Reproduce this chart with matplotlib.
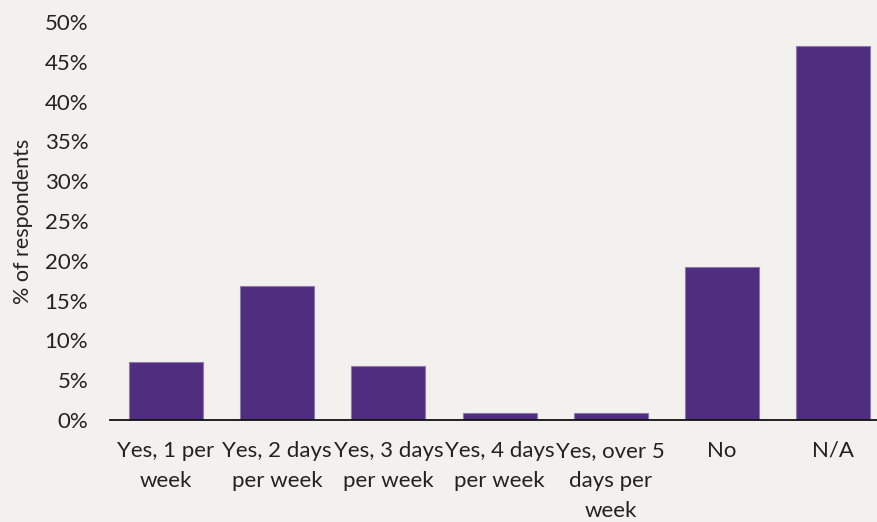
import matplotlib
matplotlib.use("Agg")
import matplotlib.pyplot as plt
from matplotlib.ticker import FuncFormatter

categories = [
    "Yes, 1 per\nweek",
    "Yes, 2 days\nper week",
    "Yes, 3 days\nper week",
    "Yes, 4 days\nper week",
    "Yes, over 5\ndays per\nweek",
    "No",
    "N/A",
]
values = [7.3, 16.8, 6.8, 0.9, 0.9, 19.2, 47.0]
y_ticks = [0, 5, 10, 15, 20, 25, 30, 35, 40, 45, 50]

bg = "#f3f1ed"
bar_color = "#4f2d7f"
text_color = "#222222"

plt.rcParams["font.family"] = ["Lato", "DejaVu Sans"]

W, H = 878, 522
fig = plt.figure(figsize=(W / 100, H / 100), dpi=100, facecolor=bg)

left_px, right_px = 110.4, 878
bottom_px, top_px = 420, 22
ax = fig.add_axes([left_px / W, (H - bottom_px) / H,
                   (right_px - left_px) / W, (bottom_px - top_px) / H])
ax.set_facecolor(bg)

x = list(range(len(categories)))
ax.bar(x, values, width=0.665, color=bar_color,
       edgecolor="#8e78b4", linewidth=0.8, zorder=2)

cat_px = 111.2
ax.set_xlim(-0.5, -0.5 + (right_px - left_px) / cat_px)
ax.set_ylim(0, 50)
ax.set_yticks(y_ticks)
ax.yaxis.set_major_formatter(FuncFormatter(lambda v, p: f"{v:.0f}%"))
ax.set_xticks(x)
ax.set_xticklabels(categories, linespacing=1.62)

for s in ["top", "right", "left"]:
    ax.spines[s].set_visible(False)
ax.spines["bottom"].set_color("#111111")
ax.spines["bottom"].set_linewidth(1.3)
ax.spines["bottom"].set_zorder(3)

ax.tick_params(axis="both", length=0, labelsize=16, colors=text_color)
ax.tick_params(axis="y", pad=16)
ax.tick_params(axis="x", pad=15)

ax.set_ylabel("% of respondents", fontsize=15.5, color=text_color, labelpad=8)

fig.savefig("out.png", dpi=100, facecolor=bg)
